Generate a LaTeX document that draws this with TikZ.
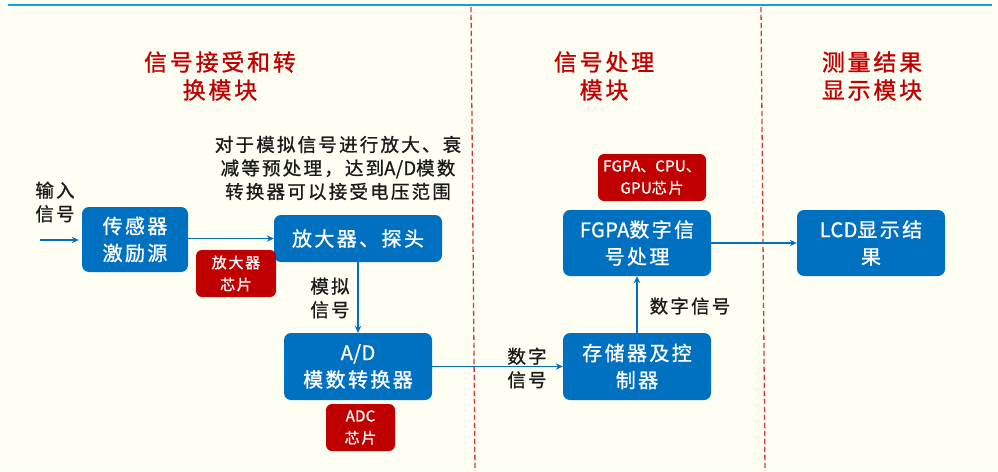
\documentclass[tikz,border=0pt]{standalone}
\usepackage{fontspec}
\setmainfont{Noto Sans CJK SC}[LetterSpace=12, FakeBold=1]
\newcommand\latn[1]{{\addfontfeatures{LetterSpace=2}#1}}
\usetikzlibrary{arrows.meta}
\definecolor{bg}{HTML}{FFFEF3}
\definecolor{topline}{HTML}{10A0E8}
\definecolor{boxblue}{HTML}{0070C0}
\definecolor{chipred}{HTML}{C00000}
\definecolor{titlered}{HTML}{C00000}
\definecolor{dashred}{HTML}{D83838}
\definecolor{txt}{HTML}{1A1A1A}
\tikzset{
 bluebox/.style={fill=boxblue, rounded corners=7pt, text=white, font=\fontsize{20}{27}\selectfont, align=center, inner sep=0pt},
 chip/.style={fill=chipred, rounded corners=6pt, text=white, font=\fontsize{15}{22}\selectfont, align=center, inner sep=0pt},
 flow/.style={draw=boxblue, line width=1.3pt, -{Stealth[length=7pt,width=6.5pt]}},
 titletext/.style={text=titlered, font=\fontsize{23}{28}\selectfont, align=center},
 note/.style={text=txt, font=\fontsize{18.5}{23.5}\selectfont, align=center},
 divider/.style={draw=dashred, line width=1.3pt, dash pattern=on 5pt off 3pt}
}
\begin{document}
\begin{tikzpicture}[x=1pt,y=-1pt]
\useasboundingbox (0,0) rectangle (998,471);
\fill[bg] (0,0) rectangle (998,471);
\draw[topline, line width=2.5pt] (8,5) -- (992,5);
\draw[divider] (471,7) -- (475,471);
\draw[divider] (761,7) -- (765,471);

% titles
\node[titletext] (t1) at (220,76) {信号接受和转\\换模块};
\node[titletext] (t2) at (604,76) {信号处理\\模块};
\node[titletext] (t3) at (872,76) {测量结果\\显示模块};

% annotation
\node[note] (ann) at (338,168) {对于模拟信号进行放大、衰\\减等预处理，达到\latn{A/D}模数\\转换器可以接受电压范围};

% boxes
\node[bluebox, minimum width=106pt, minimum height=65pt] (sensor) at (135,239.5) {传感器\\激励源};
\node[bluebox, minimum width=168pt, minimum height=47pt] (amp) at (358,238.5) {放大器、探头};
\node[chip, minimum width=80pt, minimum height=47pt] (ampchip) at (236,273.5) {放大器\\芯片};
\node[bluebox, minimum width=148pt, minimum height=67pt] (ad) at (358,366.5) {\latn{A/D}\\模数转换器};
\node[chip, minimum width=69pt, minimum height=47pt] (adcchip) at (360.5,427.5) {\latn{ADC}\\芯片};
\node[bluebox, minimum width=148pt, minimum height=67pt] (store) at (637,366.5) {存储器及控\\制器};
\node[bluebox, minimum width=148pt, minimum height=66pt] (fpga) at (637,243) {\latn{FGPA}数字信\\号处理};
\node[chip, minimum width=108pt, minimum height=47pt] (fpgachip) at (652,177.5) {\latn{FGPA}、\latn{CPU}、\\\latn{GPU}芯片};
\node[bluebox, minimum width=148pt, minimum height=66pt] (lcd) at (871,243) {\latn{LCD}显示结\\果};

% labels
\node[note] (inlab) at (55,202) {输入\\信号};
\node[note] (analab) at (330,298) {模拟\\信号};
\node[note] (diglab1) at (527,368) {数字\\信号};
\node[note] (diglab2) at (690,306) {数字信号};

% connectors
\coordinate (in) at (40,240);
\draw[flow, shorten >=3pt] (in) -- (in -| sensor.west);
\draw[flow] (sensor.east |- amp.west) -- (amp.west);
\draw[flow] (amp.south) -- (ad.north);
\draw[flow] (ad.east) -- (store.west);
\draw[flow] (store.north) -- (fpga.south);
\draw[flow] (fpga.east) -- (lcd.west);
\end{tikzpicture}
\end{document}
